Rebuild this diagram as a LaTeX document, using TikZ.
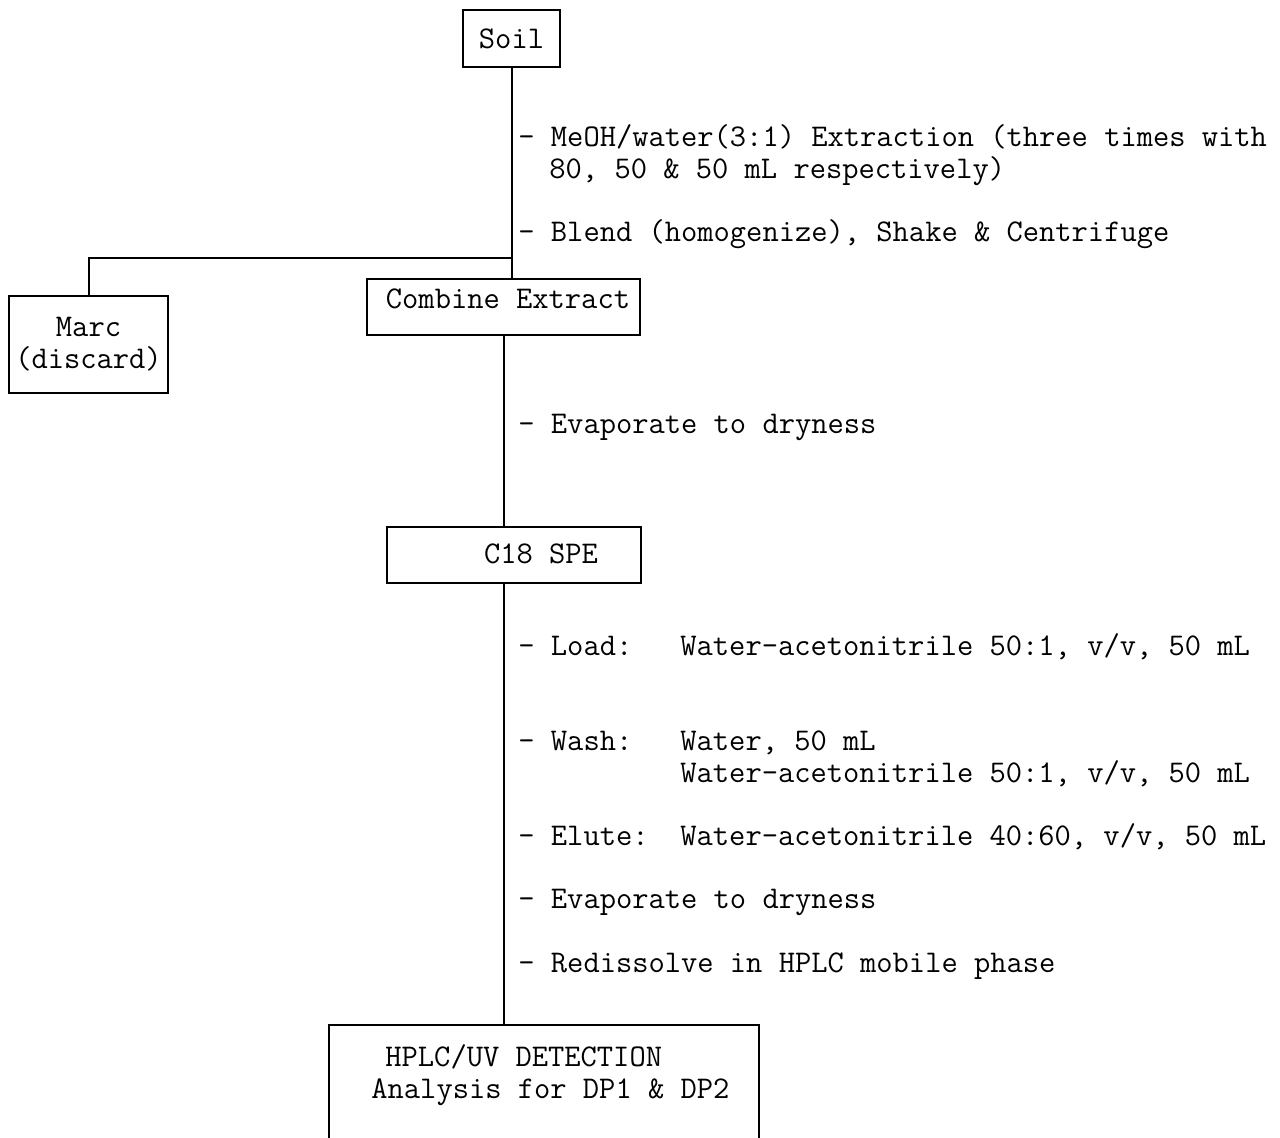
\documentclass[tikz,border=0pt]{standalone}
\usepackage{fontspec}
\usetikzlibrary{positioning}

\begin{document}
\begin{tikzpicture}[x=0.5pt,y=-0.5pt,
  font=\ttfamily\fontsize{15.8}{16}\selectfont,
  bx/.style={draw,line width=1pt,inner sep=0pt},
  st/.style={anchor=west,inner sep=0pt,text height=9pt,text depth=1.5pt},
  ln/.style={line width=1pt}]
\useasboundingbox (0,0) rectangle (1280,1138);
\node[bx,minimum width=48.5pt,minimum height=28.5pt] (soil) at (511.5,38.5) {Soil};
\node[bx,minimum width=79.5pt,minimum height=48.5pt,align=center] (marc) at (88.5,344.5) {Marc\\(discard)};
\node[bx,minimum width=136.5pt,minimum height=28pt] (comb) at (503.5,307) {};
\node (combt) at (508,299) {Combine Extract};
\node[bx,minimum width=127pt,minimum height=28pt] (c18) at (514,555) {};
\node (c18t) at (541,554) {C18 SPE};
\node[bx,minimum width=215pt,minimum height=80pt] (hplc) at (544,1105) {};
\node[st] (hplc1) at (385,1059) {HPLC/UV DETECTION};
\node[st] (hplc2) at (371,1091) {Analysis for DP1 \& DP2};
\node[st] (ext1) at (518,139) {- MeOH/water(3:1) Extraction (three times with};
\node[st] (ext2) at (549,171) {80, 50 \& 50 mL respectively)};
\node[st] (blend) at (518,234) {- Blend (homogenize), Shake \& Centrifuge};
\node[st] (evap1) at (518,426) {- Evaporate to dryness};
\node[st] (load) at (518,648) {- Load:};
\node[st] (loadv) at (680,648) {Water-acetonitrile 50:1, v/v, 50 mL};
\node[st] (wash) at (518,743) {- Wash:};
\node[st] (washv1) at (680,743) {Water, 50 mL};
\node[st] (washv2) at (680,775) {Water-acetonitrile 50:1, v/v, 50 mL};
\node[st] (elute) at (518,838) {- Elute:};
\node[st] (elutev) at (680,838) {Water-acetonitrile 40:60, v/v, 50 mL};
\node[st] (evap2) at (518,901) {- Evaporate to dryness};
\node[st] (redis) at (518,965) {- Redissolve in HPLC mobile phase};
\coordinate (br) at (511.5,258);
\draw[ln] (soil.south) -- (soil.south |- comb.north);
\draw[ln] (br) -| (marc.north);
\draw[ln] (comb.south) -- (comb.south |- c18.north);
\draw[ln] (c18.south -| comb.south) -- (comb.south |- hplc.north);
\end{tikzpicture}
\end{document}
